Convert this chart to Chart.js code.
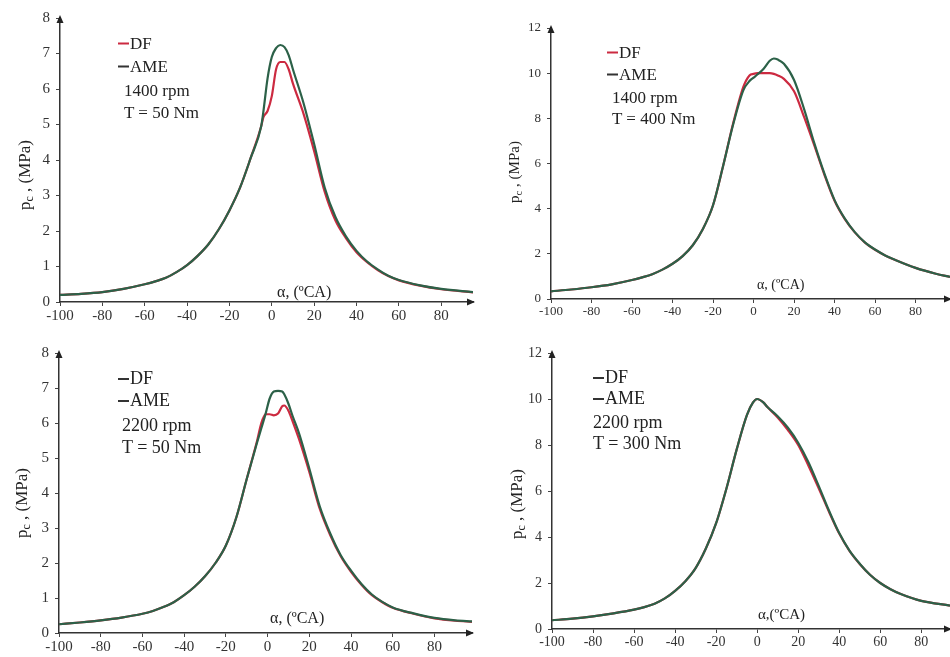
<!DOCTYPE html>
<html><head><meta charset="utf-8">
<script src="https://cdn.jsdelivr.net/npm/chart.js@4"></script>
<style>
body{margin:0;width:950px;height:657px;background:#fff;position:relative;overflow:hidden;font-family:"Liberation Serif","DejaVu Serif",serif;color:#222}
.pane{position:absolute}
canvas{display:block}
.ln{position:absolute;white-space:nowrap;line-height:1;transform:translateY(-50%)}
.d{display:inline-block;width:11px;height:2px;vertical-align:middle;margin-right:1px;position:relative;top:-1px}
.yl{position:absolute;transform:translate(-50%,-50%) rotate(-90deg);white-space:nowrap;line-height:1}
sub{font-size:70%;vertical-align:-0.25em}
</style></head><body>
<div class="pane" style="left:0;top:0"><canvas id="c1" width="475" height="320"></canvas></div>
<div class="pane" style="left:475px;top:0"><canvas id="c2" width="475" height="320"></canvas></div>
<div class="pane" style="left:0;top:320px"><canvas id="c3" width="475" height="337"></canvas></div>
<div class="pane" style="left:475px;top:320px"><canvas id="c4" width="475" height="337"></canvas></div>

<!-- panel 1 texts -->
<div class="ln" style="left:118px;top:43px;font-size:17px"><span class="d" style="background:#cc2a40"></span>DF</div>
<div class="ln" style="left:118px;top:66px;font-size:17px"><span class="d" style="background:#333"></span>AME</div>
<div class="ln" style="left:124px;top:90px;font-size:17px">1400 rpm</div>
<div class="ln" style="left:124px;top:112px;font-size:17px">T = 50 Nm</div>
<div class="yl" style="left:26px;top:175px;font-size:17px">p<sub>c</sub> , (MPa)</div>
<div class="ln" style="left:277px;top:292px;font-size:16px">α, (ºCA)</div>

<!-- panel 2 texts -->
<div class="ln" style="left:607px;top:52px;font-size:17px"><span class="d" style="background:#cc2a40"></span>DF</div>
<div class="ln" style="left:607px;top:74px;font-size:17px"><span class="d" style="background:#333"></span>AME</div>
<div class="ln" style="left:612px;top:97px;font-size:17px">1400 rpm</div>
<div class="ln" style="left:612px;top:118px;font-size:17px">T = 400 Nm</div>
<div class="yl" style="left:516px;top:172px;font-size:15px">p<sub>c</sub> , (MPa)</div>
<div class="ln" style="left:757px;top:285px;font-size:14px">α, (ºCA)</div>

<!-- panel 3 texts -->
<div class="ln" style="left:118px;top:378px;font-size:18px"><span class="d" style="background:#333"></span>DF</div>
<div class="ln" style="left:118px;top:400px;font-size:18px"><span class="d" style="background:#333"></span>AME</div>
<div class="ln" style="left:122px;top:425px;font-size:18px">2200 rpm</div>
<div class="ln" style="left:122px;top:447px;font-size:18px">T = 50 Nm</div>
<div class="yl" style="left:23px;top:503px;font-size:17px">p<sub>c</sub> , (MPa)</div>
<div class="ln" style="left:270px;top:618px;font-size:16px">α, (ºCA)</div>

<!-- panel 4 texts -->
<div class="ln" style="left:593px;top:377px;font-size:18px"><span class="d" style="background:#333"></span>DF</div>
<div class="ln" style="left:593px;top:398px;font-size:18px"><span class="d" style="background:#333"></span>AME</div>
<div class="ln" style="left:593px;top:422px;font-size:18px">2200 rpm</div>
<div class="ln" style="left:593px;top:443px;font-size:18px">T = 300 Nm</div>
<div class="yl" style="left:518px;top:504px;font-size:17px">p<sub>c</sub> , (MPa)</div>
<div class="ln" style="left:758px;top:614px;font-size:15px">α,(ºCA)</div>

<script>
// ---- tick labels ----
const xTicks = [-100, -80, -60, -40, -20, 0, 20, 40, 60, 80];
const yTicks8 = [0, 1, 2, 3, 4, 5, 6, 7, 8];
const yTicks12 = [0, 2, 4, 6, 8, 10, 12];

// ---- panel 1: 1400 rpm, T = 50 Nm ----
const angle1 = [-100,-90,-80,-70,-60,-55,-50,-45,-40,-35,-30,-25,-20,-15,-10,-5,-4,-2,0,2,4,6,8,10,15,20,25,30,35,40,45,50,55,60,70,80,95];
const df1    = [0.20,0.23,0.28,0.37,0.50,0.58,0.68,0.84,1.04,1.30,1.62,2.05,2.58,3.22,4.05,4.95,5.20,5.38,5.80,6.55,6.76,6.76,6.55,6.15,5.30,4.25,3.10,2.30,1.80,1.40,1.12,0.90,0.73,0.61,0.46,0.36,0.27];
const ame1   = [0.20,0.23,0.28,0.37,0.50,0.58,0.68,0.84,1.04,1.30,1.62,2.05,2.58,3.22,4.05,4.95,5.35,6.30,6.90,7.15,7.24,7.18,6.95,6.55,5.60,4.45,3.22,2.40,1.85,1.44,1.14,0.92,0.74,0.62,0.47,0.37,0.28];

// ---- panel 2: 1400 rpm, T = 400 Nm ----
const angle2 = [-100,-90,-80,-70,-60,-55,-50,-45,-40,-35,-30,-25,-20,-15,-10,-5,-2,0,2,5,8,10,12,15,20,25,30,35,40,45,50,55,60,65,70,80,90,97];
const df2    = [0.34,0.42,0.52,0.65,0.84,0.96,1.10,1.30,1.56,1.90,2.38,3.10,4.15,5.90,7.80,9.40,9.90,9.97,10.0,10.0,10.0,9.97,9.90,9.75,9.20,8.05,6.80,5.50,4.35,3.55,2.95,2.50,2.18,1.93,1.73,1.38,1.12,0.98];
const ame2   = [0.34,0.42,0.52,0.65,0.84,0.96,1.10,1.30,1.56,1.90,2.38,3.10,4.15,5.90,7.75,9.25,9.65,9.80,9.95,10.2,10.55,10.65,10.6,10.42,9.70,8.40,6.90,5.55,4.38,3.57,2.96,2.51,2.19,1.93,1.73,1.38,1.12,0.98];

// ---- panel 3: 2200 rpm, T = 50 Nm ----
const angle3 = [-100,-90,-80,-70,-60,-55,-50,-45,-40,-35,-30,-25,-20,-15,-10,-5,-3,-1,1,3,5,7,8,10,12,15,20,25,30,35,40,45,50,55,60,70,80,90,98];
const df3    = [0.25,0.30,0.36,0.44,0.55,0.63,0.74,0.88,1.08,1.32,1.62,2.00,2.50,3.30,4.40,5.50,6.00,6.25,6.25,6.22,6.27,6.48,6.50,6.35,6.05,5.55,4.60,3.55,2.80,2.20,1.75,1.38,1.08,0.88,0.72,0.55,0.42,0.35,0.32];
const ame3   = [0.25,0.30,0.36,0.44,0.55,0.63,0.74,0.88,1.08,1.32,1.62,2.00,2.50,3.30,4.40,5.45,5.85,6.25,6.70,6.90,6.92,6.90,6.82,6.55,6.20,5.72,4.70,3.62,2.85,2.23,1.78,1.40,1.10,0.89,0.73,0.56,0.43,0.36,0.33];

// ---- panel 4: 2200 rpm, T = 300 Nm ----
const angle4 = [-100,-90,-80,-70,-60,-55,-50,-45,-40,-35,-30,-25,-20,-15,-10,-5,-2,0,3,5,10,15,20,25,30,35,40,45,50,55,60,65,70,80,94];
const df4    = [0.38,0.45,0.55,0.68,0.84,0.95,1.10,1.33,1.66,2.08,2.65,3.50,4.60,6.10,7.80,9.30,9.85,10.0,9.85,9.65,9.20,8.65,8.00,7.10,6.12,5.10,4.15,3.40,2.83,2.36,2.00,1.73,1.52,1.22,1.02];
const ame4   = [0.38,0.45,0.55,0.68,0.84,0.95,1.10,1.33,1.66,2.08,2.65,3.50,4.60,6.10,7.80,9.30,9.85,10.0,9.85,9.65,9.25,8.75,8.10,7.25,6.22,5.15,4.17,3.41,2.84,2.36,2.00,1.73,1.52,1.22,1.02];

const RED = '#cc2a40';
const GREEN = '#2c6148';

const arrowPlugin = {
  id: 'arrows',
  afterDraw(c) {
    const a = c.chartArea, x = c.ctx;
    x.save();
    x.fillStyle = '#222';
    x.beginPath(); x.moveTo(a.right + 2, a.bottom); x.lineTo(a.right - 6, a.bottom - 3.5); x.lineTo(a.right - 6, a.bottom + 3.5); x.closePath(); x.fill();
    x.beginPath(); x.moveTo(a.left, a.top - 3); x.lineTo(a.left - 3.5, a.top + 5); x.lineTo(a.left + 3.5, a.top + 5); x.closePath(); x.fill();
    x.restore();
  }
};

function pts(ang, vals) { return ang.map((a, i) => ({ x: a, y: vals[i] })); }

function makeChart(id, ang, df, ame, yTicks, P) {
  new Chart(document.getElementById(id), {
    type: 'line',
    data: {
      datasets: [
        { label: 'DF', data: pts(ang, df), borderColor: RED, borderWidth: 2.2, pointRadius: 0, cubicInterpolationMode: 'monotone', order: 2 },
        { label: 'AME', data: pts(ang, ame), borderColor: GREEN, borderWidth: 2.2, pointRadius: 0, cubicInterpolationMode: 'monotone', order: 1 }
      ]
    },
    options: {
      responsive: false, animation: false, events: [],
      layout: { padding: { top: P.top, right: P.right, left: 0, bottom: 0 } },
      plugins: { legend: { display: false }, tooltip: { enabled: false } },
      scales: {
        x: {
          type: 'linear', min: -100, max: P.xmax,
          afterBuildTicks: s => { s.ticks = xTicks.map(v => ({ value: v })); },
          afterFit: s => { s.height = P.xh; },
          grid: { display: true, drawOnChartArea: false, drawTicks: true, tickLength: 4, color: '#444', lineWidth: 1 },
          border: { display: true, color: '#333', width: 1.5 },
          ticks: { font: { family: 'Liberation Serif', size: P.fs }, color: '#333', padding: 1, maxRotation: 0, autoSkip: false }
        },
        y: {
          type: 'linear', min: 0, max: yTicks[yTicks.length - 1],
          afterBuildTicks: s => { s.ticks = yTicks.map(v => ({ value: v })); },
          afterFit: s => { s.width = P.yw; },
          grid: { display: true, drawOnChartArea: false, drawTicks: true, tickLength: 4, color: '#444', lineWidth: 1 },
          border: { display: true, color: '#333', width: 1.5 },
          ticks: { font: { family: 'Liberation Serif', size: P.fs }, color: '#333', padding: 6, autoSkip: false }
        }
      }
    },
    plugins: [arrowPlugin]
  });
}

makeChart('c1', angle1, df1, ame1, yTicks8,  { top: 18, right: 2, yw: 60, xh: 18, xmax: 95, fs: 15 });
makeChart('c2', angle2, df2, ame2, yTicks12, { top: 28, right: 0, yw: 76, xh: 21, xmax: 97, fs: 13 });
makeChart('c3', angle3, df3, ame3, yTicks8,  { top: 33, right: 3, yw: 59, xh: 24, xmax: 98, fs: 15 });
makeChart('c4', angle4, df4, ame4, yTicks12, { top: 33, right: 0, yw: 77, xh: 28, xmax: 94, fs: 14 });
</script>
</body></html>
